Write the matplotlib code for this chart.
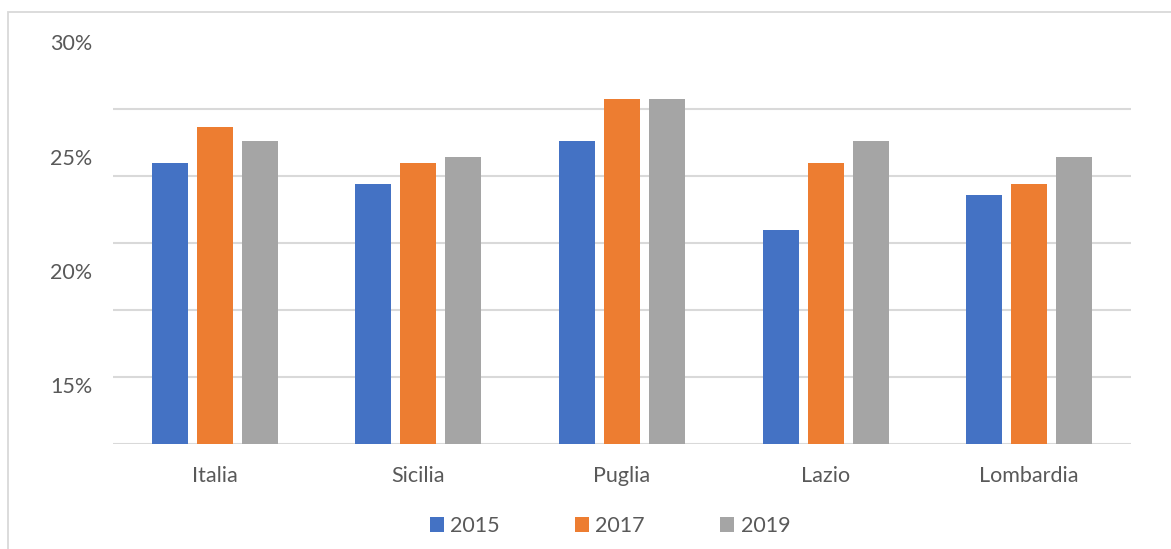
import matplotlib.pyplot as plt
import numpy as np
from matplotlib.patches import Rectangle, Patch

# Dati (percentuali)
regioni = ['Italia', 'Sicilia', 'Puglia', 'Lazio', 'Lombardia']
anni = ['2015', '2017', '2019']
v2015 = [24.7, 23.8, 25.7, 21.8, 23.3]
v2017 = [26.3, 24.7, 27.5, 24.7, 23.8]
v2019 = [25.7, 25.0, 27.5, 25.7, 25.0]
etichette_y = [15, 20, 25, 30]

colori = ['#4472c4', '#ed7d31', '#a5a5a5']
grigio_testo = '#595959'
grigio_linee = '#d9d9d9'

plt.rcParams['font.family'] = ['Lato', 'DejaVu Sans']

fig = plt.figure(figsize=(11.71, 5.49), dpi=100)
W, H = 1171, 549

# cornice esterna (solo lati sinistro e superiore visibili)
fig.patches.append(Rectangle((7.5 / W, -0.2), 1.2, 1.2 - 11.5 / H,
                             transform=fig.transFigure, fill=False,
                             edgecolor=grigio_linee, linewidth=1.3))

ax = fig.add_axes([113 / W, 1 - 443.7 / H, (1131 - 113) / W, (443.7 - 42.3) / H])

y_min, y_max = 12.44, 30
x = np.arange(len(regioni))
larghezza = 0.177
passo = 0.221
serie = [v2015, v2017, v2019]
for i, (vals, col) in enumerate(zip(serie, colori)):
    ax.bar(x + (i - 1) * passo, vals, width=larghezza, color=col, zorder=3)

ax.set_xlim(-0.5, len(regioni) - 0.5)
ax.set_ylim(y_min, y_max)

# griglia orizzontale (7 linee equidistanti come nell'originale)
ax.set_yticks(np.linspace(y_min, y_max, 7), minor=True)
ax.grid(True, which='minor', axis='y', color=grigio_linee, linewidth=1.5, zorder=0)
ax.set_yticks(etichette_y)
ax.set_yticklabels([f'{v}%' for v in etichette_y])
ax.tick_params(axis='y', which='both', length=0, pad=15, labelsize=15.5,
               labelcolor=grigio_testo)

ax.set_xticks(x)
ax.set_xticklabels(regioni)
ax.tick_params(axis='x', length=0, pad=16, labelsize=15.5, labelcolor=grigio_testo)

for s in ax.spines.values():
    s.set_visible(False)

handles = [Patch(facecolor=c, edgecolor='none') for c in colori]
fig.legend(handles, anni, loc='center', bbox_to_anchor=(610 / W, 1 - 526 / H),
           ncol=3, frameon=False, fontsize=15.5, labelcolor=grigio_testo,
           handlelength=0.65, handleheight=0.65, handletextpad=0.3,
           columnspacing=3.5)

fig.savefig('out.png', dpi=100)
